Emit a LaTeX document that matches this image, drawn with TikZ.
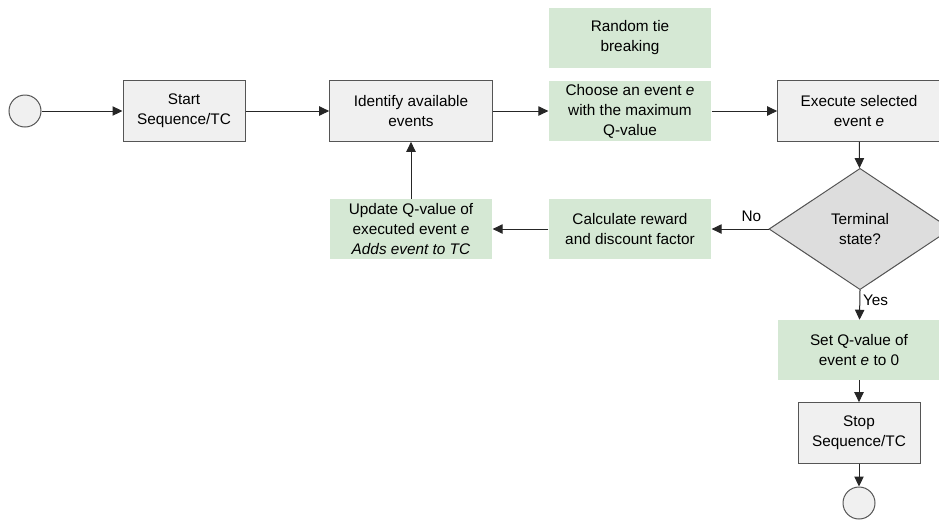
\documentclass[tikz,border=0pt]{standalone}
\usepackage{fontspec}
\setmainfont{Liberation Sans}
\usetikzlibrary{arrows.meta,shapes.geometric}
\definecolor{boxgray}{RGB}{240,240,240}
\definecolor{diagray}{RGB}{221,221,221}
\definecolor{boxgreen}{RGB}{213,232,212}
\definecolor{linegray}{RGB}{85,85,85}
\begin{document}
\begin{tikzpicture}[x=0.75pt,y=-0.75pt,
    every node/.style={font=\fontsize{11.5}{15}\selectfont, align=center, inner sep=0pt},
    procbox/.style={rectangle, draw=linegray, line width=0.75pt, fill=boxgray, minimum width=91.5pt, minimum height=45.5pt},
    widebox/.style={procbox, minimum width=122pt},
    greenbox/.style={rectangle, fill=boxgreen, minimum width=122pt, minimum height=45pt},
    decision/.style={diamond, draw=linegray, line width=0.75pt, fill=diagray, aspect=1.5, minimum width=136.5pt, minimum height=91pt},
    terminal/.style={circle, draw=linegray, line width=0.75pt, fill=boxgray, minimum size=24pt},
    flow/.style={-{Triangle[length=7.5pt,width=7pt]}, line width=0.75pt, draw=black!85}]
    \useasboundingbox (0,0) rectangle (939,519);

    % top row
    \node[terminal] (begin) at (25,111) {};
    \node[procbox] (start) at (184,111) {Start\\Sequence/TC};
    \node[widebox] (identify) at (411,111) {Identify available\\events};
    \node[greenbox] (tie) at (630,38) {Random tie\\breaking};
    \node[greenbox] (choose) at (630,111) {Choose an event \textit{e}\\with the maximum\\Q-value};
    \node[widebox] (execute) at (859,111) {Execute selected\\event \textit{e}};

    % decision and loop back
    \node[decision] (terminalstate) at (860,229) {Terminal\\state?};
    \node[greenbox] (reward) at (630,229) {Calculate reward\\and discount factor};
    \node[greenbox] (update) at (411,229) {Update Q-value of\\executed event \textit{e}\\\textit{Adds event to TC}};

    % stop branch
    \node[greenbox] (setq) at (859,350) {Set Q-value of\\event \textit{e} to 0};
    \node[procbox] (stop) at (859,433) {Stop\\Sequence/TC};
    \node[terminal] (finish) at (859,503) {};

    % connectors
    \draw[flow] (begin) -- (start);
    \draw[flow] (start) -- (identify);
    \draw[flow] (identify) -- (choose);
    \draw[flow] (choose) -- (execute);
    \draw[flow] (execute) -- (terminalstate);
    \draw[flow] (terminalstate.west) -- node[above=5pt, pos=0.3] (no) {No} (reward);
    \draw[flow] (reward) -- (update);
    \draw[flow] (update) -- (identify);
    \draw[flow] (terminalstate.south) -- node[right=2pt, pos=0.35] (yes) {Yes} (setq);
    \draw[flow] (setq) -- (stop);
    \draw[flow] (stop) -- (finish);
\end{tikzpicture}
\end{document}
